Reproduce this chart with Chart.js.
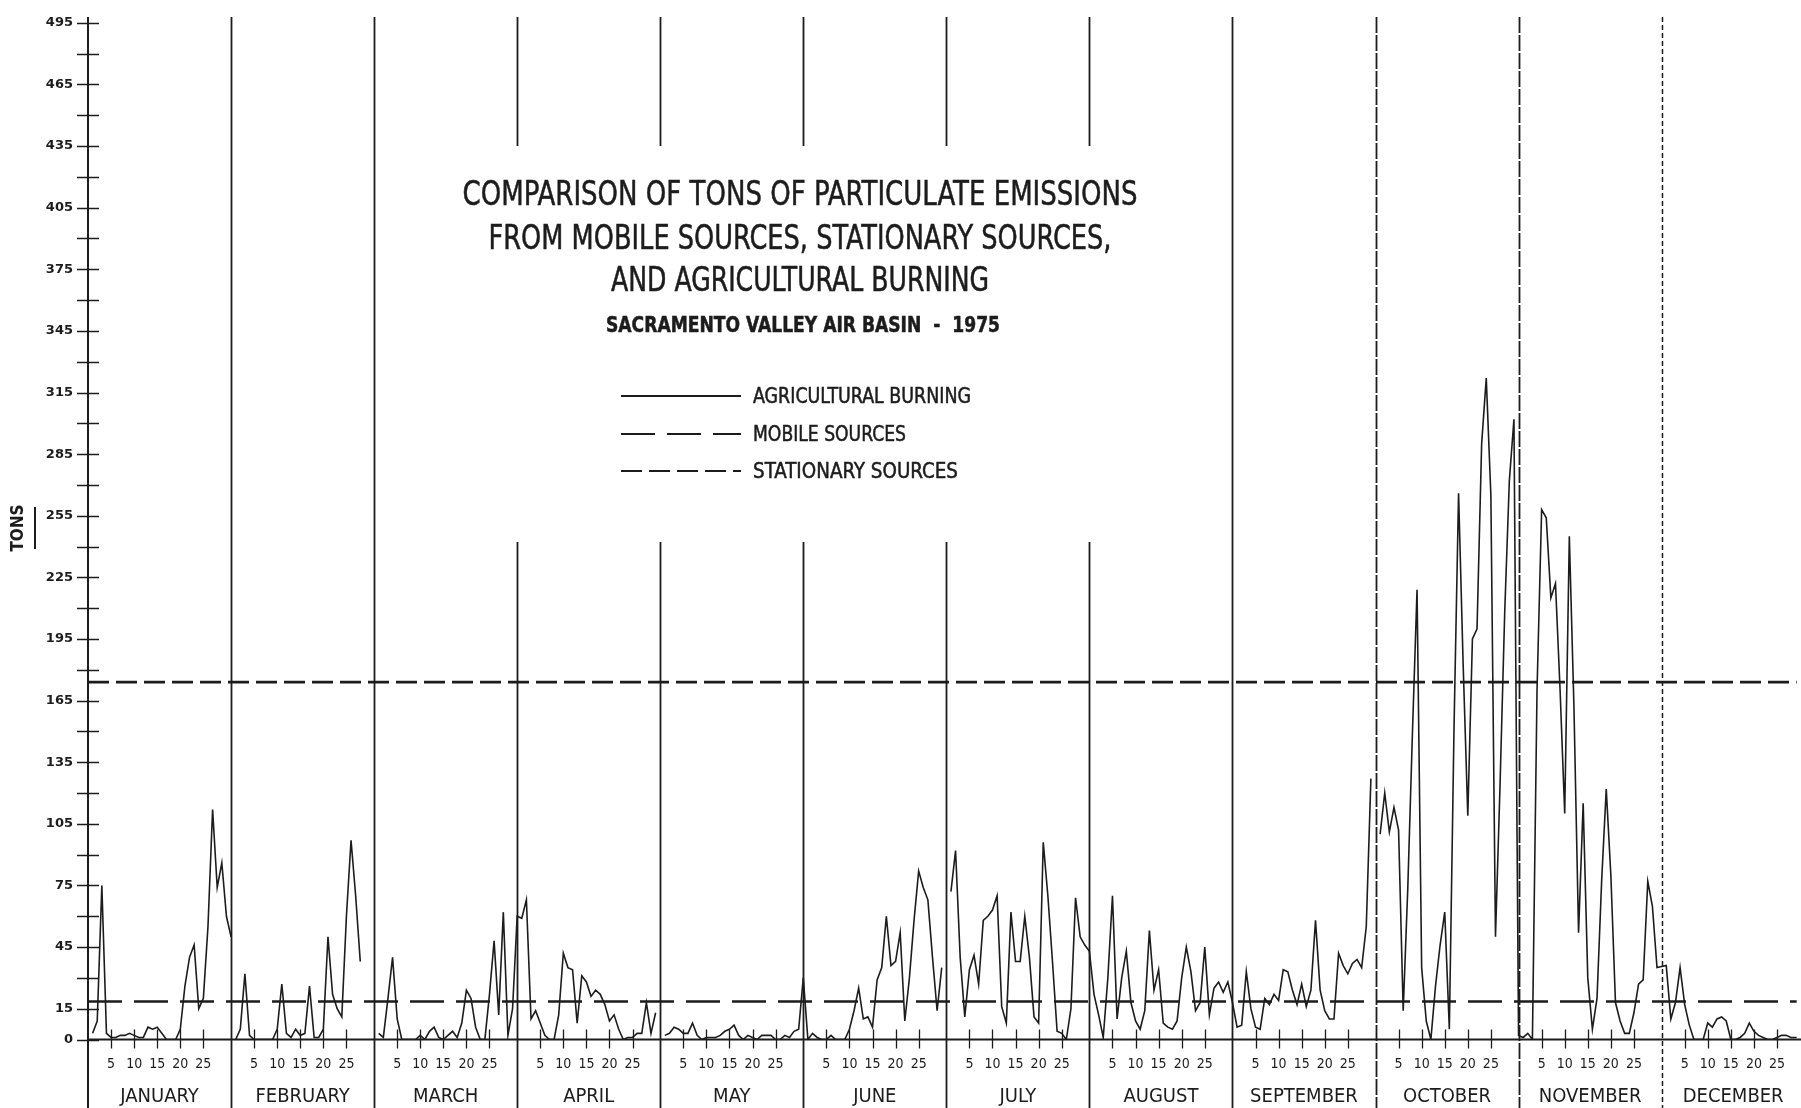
<!DOCTYPE html>
<html>
<head>
<meta charset="utf-8">
<title>Particulate emissions - Sacramento Valley Air Basin 1975</title>
<script src="https://cdn.jsdelivr.net/npm/chart.js@4.4.1/dist/chart.umd.min.js"></script>
<style>
  html, body { margin: 0; padding: 0; background: #fff; overflow: hidden; }
  #wrap { width: 1801px; height: 1108px; }
</style>
</head>
<body>
<div id="wrap"><canvas id="chart" width="1801" height="1108"></canvas></div>
<script>
const months = ['JANUARY', 'FEBRUARY', 'MARCH', 'APRIL', 'MAY', 'JUNE',
  'JULY', 'AUGUST', 'SEPTEMBER', 'OCTOBER', 'NOVEMBER', 'DECEMBER'];
const dayTicks = [5, 10, 15, 20, 25];
const yLabelValues = [0, 15, 45, 75, 105, 135, 165, 195, 225, 255, 285, 315,
  345, 375, 405, 435, 465, 495];

// daily tons from agricultural burning, one array per month
const jan = [3, 9, 75, 3, 1, 1, 2, 2, 3, 2, 1, 1, 6, 5, 6, 3, 0, 0, 0, 5,
  26, 40, 46, 15, 20, 55, 112, 74, 86, 60, 50];
const feb = [0, 5, 32, 2, 0, 0, 0, 0, 0, 5, 27, 3, 1, 5, 2, 3, 26, 1, 1, 5,
  50, 22, 15, 11, 60, 97, 70, 38];
const mar = [3, 1, 20, 40, 10, 0, 0, 0, 0, 2, 0, 4, 6, 1, 0, 2, 4, 1, 8, 24,
  20, 6, 0, 0, 22, 48, 12, 62, 2, 15, 60];
const apr = [59, 68, 10, 14, 8, 2, 0, 0, 12, 42, 35, 34, 8, 31, 28, 21, 24, 22, 17, 9,
  12, 5, 0, 1, 1, 3, 3, 18, 3, 13];
const may = [2, 3, 6, 5, 3, 3, 8, 2, 0, 1, 1, 1, 2, 4, 5, 7, 2, 0, 2, 1,
  0, 2, 2, 2, 0, 0, 2, 1, 4, 5, 30];
const jun = [0, 3, 1, 0, 0, 2, 0, 0, 0, 5, 14, 25, 10, 11, 6, 29, 35, 60, 36, 38,
  52, 9, 30, 58, 82, 74, 68, 40, 14, 35];
const jul = [72, 92, 40, 11, 34, 41, 27, 58, 60, 63, 70, 16, 8, 62, 38, 38, 60, 40, 11, 8,
  96, 70, 38, 4, 3, 0, 15, 69, 50, 46, 43];
const aug = [22, 12, 1, 30, 70, 10, 30, 43, 18, 9, 5, 14, 53, 24, 34, 8, 6, 5, 9, 30,
  45, 33, 14, 18, 45, 12, 25, 28, 23, 28, 18];
const sep = [6, 7, 33, 15, 6, 5, 20, 17, 22, 19, 34, 33, 24, 17, 27, 16, 24, 58, 24, 14,
  10, 10, 42, 36, 32, 37, 39, 35, 55, 127];
const oct = [100, 120, 101, 113, 102, 14, 74, 149, 219, 35, 9, 0, 26, 46, 62, 5, 150, 266, 182, 109,
  195, 200, 290, 322, 265, 50, 125, 208, 272, 302, 2];
const nov = [1, 3, 0, 170, 258, 254, 215, 222, 170, 110, 245, 162, 52, 115, 30, 5, 20, 77, 122, 80,
  18, 9, 3, 3, 13, 27, 29, 77, 65, 35];
const dec = [36, 10, 18, 35, 17, 7, 0, 0, 0, 8, 6, 10, 11, 9, 0, 0, 1, 3, 8, 4,
  2, 1, 0, 0, 1, 2, 2, 1, 1, 1, 1];
const agBurning = [jan, feb, mar, apr, may, jun, jul, aug, sep, oct, nov, dec];
// months after which the drawn curve is broken
const breakAfter = [0, 1, 3, 5, 8];

const stationaryTons = 174;
const mobileTons = 18.5;

const ink = '#1c1c1c';
const cond = '"DejaVu Sans Condensed", "DejaVu Sans", sans-serif';

// every month gets the same width, days laid out on a 31 day grid
const agPoints = [];
agBurning.forEach((days, m) => {
  days.forEach((tons, i) => agPoints.push({ x: m + (i + 1) / 31, y: tons }));
  if (breakAfter.includes(m)) agPoints.push({ x: m + 1, y: null });
});

const dayTickValues = [];
months.forEach((name, m) => dayTicks.forEach(d => dayTickValues.push(m + d / 31)));

const yTickValues = [];
for (let v = 0; v <= 495; v += 15) yTickValues.push(v);

const X_MAX = 11.944;
const LINE_TOP = 17;
const GAP_TOP = 146, GAP_BOTTOM = 542;
const gappedMonths = [3, 4, 5, 6, 7];
const monthDash = { 9: [16, 2], 10: [16, 2], 11: [5, 3] };

// squeeze text horizontally to the lettering width of the original
function fitText(ctx, text, x, y, font, width, align) {
  ctx.save();
  ctx.font = font;
  const w = ctx.measureText(text).width;
  ctx.translate(x, y);
  ctx.scale(width / w, 1);
  ctx.textAlign = align || 'center';
  ctx.textBaseline = 'middle';
  ctx.lineWidth = 0.5;
  ctx.fillText(text, 0, 0);
  ctx.strokeText(text, 0, 0);
  ctx.restore();
}

const sketchPlugin = {
  id: 'sketch',
  beforeDatasetsDraw(chart) {
    const { ctx, scales: { x } } = chart;
    const bottom = chart.height;
    ctx.save();
    ctx.strokeStyle = ink;
    for (let m = 1; m < 12; m++) {
      const px = Math.round(x.getPixelForValue(m)) + 0.5;
      ctx.lineWidth = m === 11 ? 1.5 : 1.8;
      ctx.setLineDash(monthDash[m] || []);
      ctx.beginPath();
      if (gappedMonths.includes(m)) {
        ctx.moveTo(px, LINE_TOP); ctx.lineTo(px, GAP_TOP);
        ctx.moveTo(px, GAP_BOTTOM); ctx.lineTo(px, bottom);
      } else {
        ctx.moveTo(px, LINE_TOP); ctx.lineTo(px, bottom);
      }
      ctx.stroke();
    }
    ctx.restore();
  },
  afterDraw(chart) {
    const { ctx, scales: { x, y } } = chart;
    const x0 = x.getPixelForValue(0);
    const y0 = y.getPixelForValue(0);
    ctx.save();
    ctx.strokeStyle = ink;
    ctx.fillStyle = ink;
    ctx.setLineDash([]);

    // axes
    ctx.lineWidth = 2;
    ctx.beginPath();
    ctx.moveTo(x0, LINE_TOP); ctx.lineTo(x0, chart.height);
    ctx.moveTo(x0, y0); ctx.lineTo(chart.width, y0);
    ctx.stroke();

    // crossing ticks on the tons axis
    ctx.lineWidth = 1.5;
    ctx.beginPath();
    y.ticks.forEach(t => {
      const py = Math.round(y.getPixelForValue(t.value)) + 0.5;
      ctx.moveTo(x0 - 11, py); ctx.lineTo(x0 + 11, py);
    });
    ctx.stroke();

    // day ticks
    ctx.lineWidth = 1.3;
    ctx.beginPath();
    x.ticks.forEach(t => {
      const px = Math.round(x.getPixelForValue(t.value)) + 0.5;
      ctx.moveTo(px, y0 - 10); ctx.lineTo(px, y0 + 9);
    });
    ctx.stroke();

    // title block
    fitText(ctx, 'COMPARISON OF TONS OF PARTICULATE EMISSIONS', 800, 196, '33px ' + cond, 675);
    fitText(ctx, 'FROM MOBILE SOURCES, STATIONARY SOURCES,', 800, 240, '33px ' + cond, 623);
    fitText(ctx, 'AND AGRICULTURAL BURNING', 800, 282, '33px ' + cond, 378);
    fitText(ctx, 'SACRAMENTO VALLEY AIR BASIN  -  1975', 803, 327, 'bold 21px ' + cond, 394);

    // legend
    const rows = [
      { label: 'AGRICULTURAL BURNING', ds: chart.data.datasets[0], y: 396, w: 218 },
      { label: 'MOBILE SOURCES', ds: chart.data.datasets[2], y: 434, w: 153 },
      { label: 'STATIONARY SOURCES', ds: chart.data.datasets[1], y: 471, w: 205 }
    ];
    rows.forEach(r => {
      ctx.lineWidth = 2.2;
      ctx.setLineDash(r.ds.borderDash || []);
      ctx.beginPath();
      ctx.moveTo(621, r.y); ctx.lineTo(741, r.y);
      ctx.stroke();
      ctx.setLineDash([]);
      fitText(ctx, r.label, 753, r.y + 2, '21px ' + cond, r.w, 'left');
    });

    // axis title
    ctx.save();
    ctx.translate(23, 528);
    ctx.rotate(-Math.PI / 2);
    ctx.textAlign = 'center';
    ctx.font = 'bold 17px ' + cond;
    ctx.fillText('TONS', 0, 0);
    ctx.restore();
    ctx.lineWidth = 2;
    ctx.beginPath();
    ctx.moveTo(35, 507); ctx.lineTo(35, 549);
    ctx.stroke();

    ctx.restore();
  }
};

new Chart(document.getElementById('chart'), {
  type: 'line',
  data: {
    datasets: [
      {
        label: 'AGRICULTURAL BURNING',
        data: agPoints,
        borderColor: ink,
        borderWidth: 1.6,
        spanGaps: false
      },
      {
        label: 'STATIONARY SOURCES',
        data: [{ x: 0, y: stationaryTons }, { x: 12, y: stationaryTons }],
        borderColor: ink,
        borderWidth: 2.6,
        borderDash: [21, 7]
      },
      {
        label: 'MOBILE SOURCES',
        data: [{ x: 0, y: mobileTons }, { x: 12, y: mobileTons }],
        borderColor: ink,
        borderWidth: 2.4,
        borderDash: [34, 12]
      }
    ]
  },
  options: {
    responsive: false,
    animation: false,
    devicePixelRatio: 1,
    layout: { padding: { top: 19.5, left: 0, right: 0, bottom: 0 } },
    elements: { point: { radius: 0 }, line: { tension: 0 } },
    plugins: { legend: { display: false }, tooltip: { enabled: false } },
    scales: {
      x: {
        type: 'linear', axis: 'x', position: 'bottom',
        min: 0, max: X_MAX, bounds: 'data', weight: 0,
        afterBuildTicks: s => { s.ticks = dayTickValues.map(v => ({ value: v })); },
        afterFit: s => { s.height = 44; },
        grid: { display: false, drawTicks: false },
        border: { display: false },
        ticks: {
          autoSkip: false, maxRotation: 0, minRotation: 0, padding: 16,
          color: ink, font: { family: 'DejaVu Sans Condensed', size: 14 },
          callback: (v, i) => String(dayTicks[i % dayTicks.length])
        }
      },
      month: {
        type: 'linear', axis: 'x', position: 'bottom',
        min: 0, max: X_MAX, bounds: 'data', weight: 1,
        afterBuildTicks: s => { s.ticks = months.map((n, i) => ({ value: i + 0.5 })); },
        afterFit: s => { s.height = 24.5; },
        grid: { display: false, drawTicks: false },
        border: { display: false },
        ticks: {
          autoSkip: false, maxRotation: 0, minRotation: 0, padding: 1,
          color: ink, font: { family: 'DejaVu Sans Condensed', size: 20 },
          callback: (v, i) => months[i]
        }
      },
      y: {
        type: 'linear', position: 'left',
        min: 0, max: 495, bounds: 'data',
        afterBuildTicks: s => { s.ticks = yTickValues.map(v => ({ value: v })); },
        afterFit: s => { s.width = 88; },
        grid: { display: false, drawTicks: false },
        border: { display: false },
        ticks: {
          autoSkip: false, padding: 15, color: ink,
          font: { family: 'DejaVu Sans', size: 13, weight: 'bold' },
          callback: v => yLabelValues.includes(v) ? String(v) : ''
        }
      }
    }
  },
  plugins: [sketchPlugin]
});
</script>
</body>
</html>
